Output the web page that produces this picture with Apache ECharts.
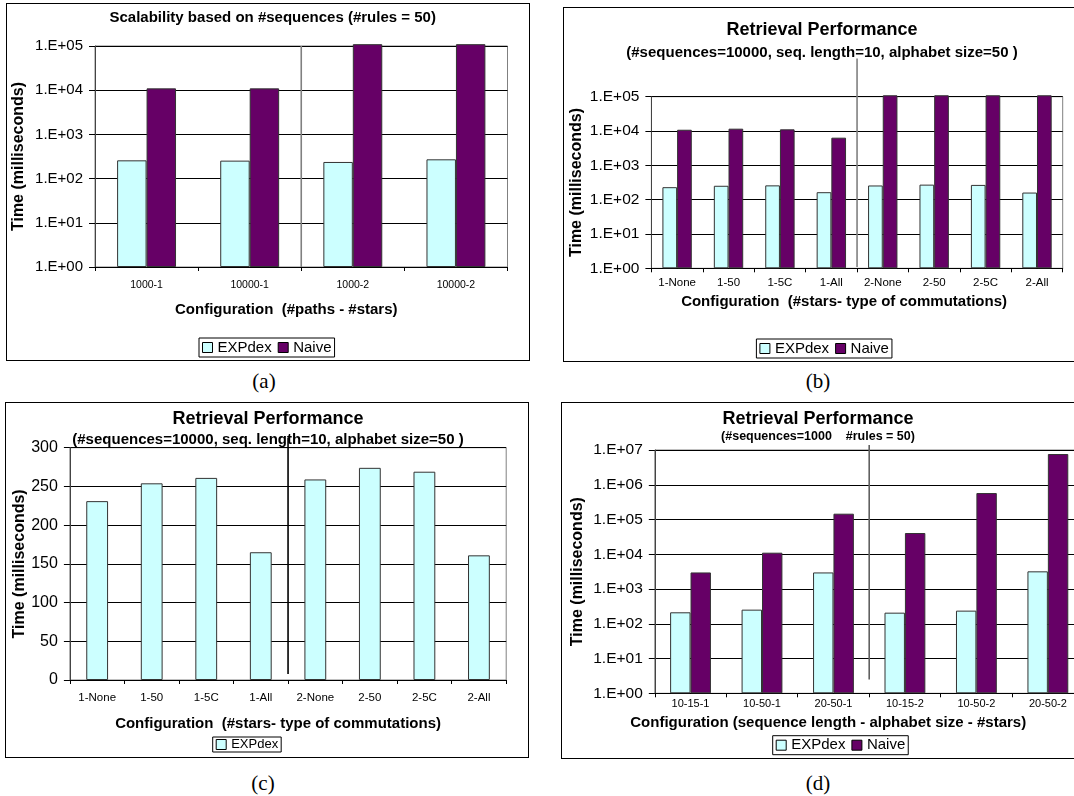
<!DOCTYPE html>
<html>
<head>
<meta charset="utf-8">
<script src="https://cdn.jsdelivr.net/npm/echarts@6/dist/echarts.min.js"></script>
<style>
  html, body { margin: 0; padding: 0; background: #fff; width: 1074px; height: 796px; overflow: hidden; position: relative; }
  .panel { position: absolute; box-sizing: border-box; border: 1px solid #000; background: #fff; }
  .cap { position: absolute; width: 60px; text-align: center; font-family: 'Liberation Serif', 'DejaVu Serif', serif; font-size: 21px; line-height: 24px; color: #000; }
</style>
</head>
<body>
<div id="pa" class="panel" style="left:6px;top:3px;width:524px;height:358px"></div>
<div id="pb" class="panel" style="left:563px;top:7px;width:530px;height:355px"></div>
<div id="pc" class="panel" style="left:5px;top:402px;width:524px;height:356px"></div>
<div id="pd" class="panel" style="left:561px;top:402px;width:530px;height:357px"></div>
<div class="cap" style="left:234px;top:369px">(a)</div>
<div class="cap" style="left:788px;top:369px">(b)</div>
<div class="cap" style="left:233px;top:771px">(c)</div>
<div class="cap" style="left:788px;top:771px">(d)</div>
<script>
// ---- data ----
const configsA = ['1000-1', '10000-1', '1000-2', '10000-2'];
const expdexA = [259, 255, 238, 273];
const naiveA = [11000, 11000, 110000, 110000];

const configsB = ['1-None', '1-50', '1-5C', '1-All', '2-None', '2-50', '2-5C', '2-All'];
const expdexB = [231, 254, 261, 165, 259, 274, 269, 161];
const naiveB = [10900, 11700, 11200, 6400, 110000, 110000, 110000, 110000];

const configsC = configsB;
const expdexC = [231, 254, 261, 165, 259, 274, 269, 161];

const configsD = ['10-15-1', '10-50-1', '20-50-1', '10-15-2', '10-50-2', '20-50-2'];
const expdexD = [214, 255, 3000, 209, 239, 3230];
const naiveD = [3000, 11100, 147000, 40900, 578000, 7660000];

const logTickLabels = ['1.E+00', '1.E+01', '1.E+02', '1.E+03', '1.E+04', '1.E+05', '1.E+06', '1.E+07'];
const linearTickLabels = ['0', '50', '100', '150', '200', '250', '300'];

// vertical divider between the 1-star and 2-star groups (value-axis extent of the stroke)
const dividerA = [1, 1e5];
const dividerB = [1.1, 1.3e6];
const dividerC = [7.7, 312.5];
const dividerD = [2.5, 1.39e7];

// ---- styling ----
const FONT = "'Liberation Sans', Arial, Helvetica, sans-serif";
const COLORS = { EXPdex: '#CCFFFF', Naive: '#660066' };

function logFormatter(v) {
  const e = Math.round(Math.log10(v));
  return logTickLabels[e] !== undefined ? logTickLabels[e] : '';
}
function linearFormatter(v) {
  const i = Math.round(v / 50);
  return linearTickLabels[i] !== undefined ? linearTickLabels[i] : '';
}

function buildOption(cfg) {
  const n = cfg.categories.length;
  const titles = cfg.titles.map(t => ({
    text: t.text, left: t.x, top: t.y, textAlign: 'center', textVerticalAlign: 'middle', padding: 0,
    textStyle: { fontFamily: FONT, fontWeight: 'bold', fontSize: t.size, color: '#000' }
  }));
  const bars = cfg.series.map(s => ({
    type: 'bar', name: s.name, data: s.data, clip: false,
    barGap: '0%', barCategoryGap: cfg.series.length > 1 ? '42.86%' : '60%',
    itemStyle: { color: COLORS[s.name], borderColor: '#333', borderWidth: 1 },
    emphasis: { disabled: true }
  }));
  const divider = {
    type: 'line', xAxisIndex: 1, yAxisIndex: 0, silent: true, clip: false, symbol: 'none', z: 6,
    data: [[n / 2, cfg.divider[0]], [n / 2, cfg.divider[1]]],
    lineStyle: { color: cfg.dividerColor, width: 1.6 }
  };
  const yAxis = Object.assign({
    axisLine: { show: true, onZero: false, lineStyle: { color: '#444', width: 1 } },
    axisTick: { show: true, length: 6, lineStyle: { color: '#000' } },
    splitLine: { show: true, lineStyle: { color: '#000', width: 1 } },
    axisLabel: { fontFamily: FONT, fontSize: cfg.yLabelSize, color: '#000', margin: cfg.yLabelMargin, formatter: cfg.formatter },
    name: 'Time (milliseconds)', nameLocation: 'middle', nameGap: cfg.yNameGap, nameMoveOverlap: false,
    nameTextStyle: { fontFamily: FONT, fontWeight: 'bold', fontSize: 16, color: '#000' }
  }, cfg.yScale);
  return {
    animation: false,
    title: titles,
    legend: {
      data: cfg.series.map(s => s.name), left: cfg.legend.left, top: cfg.legend.top,
      orient: 'horizontal', icon: 'rect', itemWidth: 10, itemHeight: 10, itemGap: 6,
      padding: cfg.legend.padding, borderColor: '#000', borderWidth: 1, borderRadius: 0, backgroundColor: '#fff',
      selectedMode: false,
      itemStyle: { borderColor: '#000', borderWidth: 1 },
      textStyle: { fontFamily: FONT, fontSize: cfg.legend.fontSize, color: '#000' }
    },
    grid: Object.assign({ show: true, borderColor: '#808080', borderWidth: 1, backgroundColor: '#fff', containLabel: false, outerBoundsMode: 'none' }, cfg.grid),
    xAxis: [{
      type: 'category', data: cfg.categories, boundaryGap: true,
      axisLine: { show: true, onZero: false, lineStyle: { color: '#000', width: 1 } },
      axisTick: { show: true, length: 4, alignWithLabel: false, lineStyle: { color: '#000' } },
      axisLabel: { interval: 0, fontFamily: FONT, fontSize: cfg.xLabelSize, color: '#000', margin: cfg.xLabelMargin },
      splitLine: { show: false },
      name: cfg.xName, nameLocation: 'middle', nameGap: cfg.xNameGap, nameMoveOverlap: false,
      nameTextStyle: { fontFamily: FONT, fontWeight: 'bold', fontSize: 15, color: '#000', padding: [0, cfg.xNameShift * 2, 0, 0] }
    }, {
      type: 'value', min: 0, max: n, show: false
    }],
    yAxis: yAxis,
    series: bars.concat([divider])
  };
}

function render(id, cfg) {
  const chart = echarts.init(document.getElementById(id), null, { renderer: 'canvas' });
  chart.setOption(buildOption(cfg));
}

function logY(maxExp) { return { type: 'log', logBase: 10, min: 1, max: Math.pow(10, maxExp), interval: 1 }; }

render('pa', {
  categories: configsA,
  series: [{ name: 'EXPdex', data: expdexA }, { name: 'Naive', data: naiveA }],
  titles: [{ text: 'Scalability based on #sequences (#rules = 50)', x: 265.7, y: 14.3, size: 15 }],
  grid: { left: 88, right: 21.5, top: 42, bottom: 93 },
  yScale: logY(5), formatter: logFormatter,
  yLabelSize: 15, yLabelMargin: 12, yNameGap: 68,
  xLabelSize: 10.5, xLabelMargin: 13, xName: 'Configuration  (#paths - #stars)', xNameGap: 35, xNameShift: 15,
  legend: { left: 192, top: 334, padding: [2, 3], fontSize: 15 },
  divider: dividerA, dividerColor: '#808080'
});

render('pb', {
  categories: configsB,
  series: [{ name: 'EXPdex', data: expdexB }, { name: 'Naive', data: naiveB }],
  titles: [
    { text: 'Retrieval Performance', x: 258, y: 22, size: 18 },
    { text: '(#sequences=10000, seq. length=10, alphabet size=50 )', x: 258, y: 45.3, size: 15 }
  ],
  grid: { left: 87.4, right: 29.3, top: 88.7, bottom: 92.7 },
  yScale: logY(5), formatter: logFormatter,
  yLabelSize: 15.5, yLabelMargin: 12, yNameGap: 67,
  xLabelSize: 11.5, xLabelMargin: 9, xName: 'Configuration  (#stars- type of commutations)', xNameGap: 26, xNameShift: 13,
  legend: { left: 192.4, top: 331, padding: [2, 3], fontSize: 15 },
  divider: dividerB, dividerColor: '#808080'
});

render('pc', {
  categories: configsC,
  series: [{ name: 'EXPdex', data: expdexC }],
  titles: [
    { text: 'Retrieval Performance', x: 262, y: 16, size: 18 },
    { text: '(#sequences=10000, seq. length=10, alphabet size=50 )', x: 262, y: 37, size: 15 }
  ],
  grid: { left: 63.9, right: 21.8, top: 44.7, bottom: 77 },
  yScale: { type: 'value', min: 0, max: 300, interval: 50 }, formatter: linearFormatter,
  yLabelSize: 16, yLabelMargin: 12, yNameGap: 42,
  xLabelSize: 11.5, xLabelMargin: 12, xName: 'Configuration  (#stars- type of commutations)', xNameGap: 36, xNameShift: 10,
  legend: { left: 206.7, top: 334, padding: [1, 3], fontSize: 13 },
  divider: dividerC, dividerColor: '#000'
});

render('pd', {
  categories: configsD,
  series: [{ name: 'EXPdex', data: expdexD }, { name: 'Naive', data: naiveD }],
  titles: [
    { text: 'Retrieval Performance', x: 256, y: 16, size: 18 },
    { text: '(#sequences=1000    #rules = 50)', x: 256, y: 34, size: 12.5 }
  ],
  grid: { left: 92.8, right: 6.4, top: 47, bottom: 64.7 },
  yScale: logY(7), formatter: logFormatter,
  yLabelSize: 15.5, yLabelMargin: 12, yNameGap: 69,
  xLabelSize: 11, xLabelMargin: 5, xName: 'Configuration (sequence length - alphabet size - #stars)', xNameGap: 22, xNameShift: 41,
  legend: { left: 210.7, top: 332.7, padding: [2, 3], fontSize: 15 },
  divider: dividerD, dividerColor: '#606060'
});
</script>
</body>
</html>
